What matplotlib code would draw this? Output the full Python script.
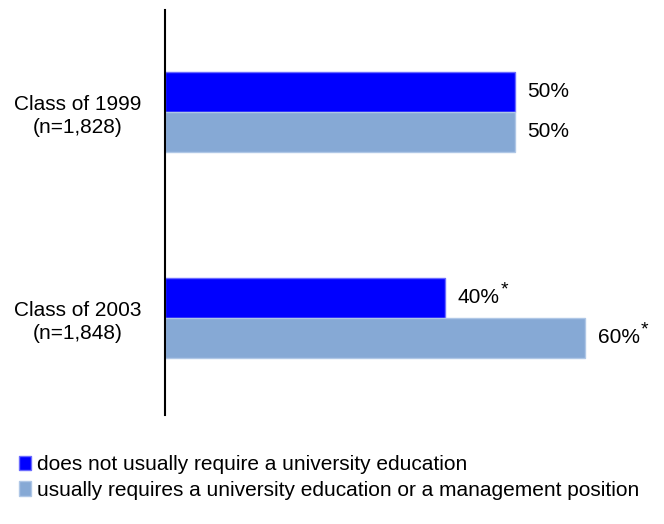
import matplotlib
matplotlib.use("Agg")
import matplotlib.pyplot as plt
from matplotlib.patches import Patch
import numpy as np

plt.rcParams['font.family'] = ['Liberation Sans', 'DejaVu Sans']

categories = ["Class of 1999\n(n=1,828)", "Class of 2003\n(n=1,848)"]
series_names = ["does not usually require a university education",
                "usually requires a university education or a management position"]
not_required = [50, 40]
required = [50, 60]
not_required_sig = [False, True]
required_sig = [False, True]

colors = ["#0000FF", "#86A9D5"]
edges = ["#6B6BFF", "#AFC7E6"]
FS = 15

fig = plt.figure(figsize=(6.64, 5.24), dpi=100)
ax = fig.add_axes([165/664, (524-415)/524, 490/664, 405/524])

y = np.arange(len(categories))
h = 0.194
ax.barh(y - h/2, not_required, height=h, color=colors[0], edgecolor=edges[0], linewidth=1)
ax.barh(y + h/2, required, height=h, color=colors[1], edgecolor=edges[1], linewidth=1)

for i in range(len(categories)):
    for vals, sig, off in ((not_required, not_required_sig, -h/2), (required, required_sig, h/2)):
        t = ax.text(vals[i] + 1.8, y[i] + off, f"{vals[i]}%", va='center', ha='left', fontsize=FS)
        if sig[i]:
            ax.annotate("*", xy=(1, 1), xycoords=t, xytext=(0.5, -1), textcoords='offset points',
                        ha='left', va='center', fontsize=FS - 1)

ax.set_xlim(0, 70)
ax.set_ylim(1.471, -0.495)
ax.set_yticks(y)
ax.set_yticklabels(categories, fontsize=FS, ha='center', multialignment='center',
                   linespacing=1.25)
ax.tick_params(axis='y', length=0, pad=63)
ax.set_xticks([])
for s in ['top', 'right', 'bottom']:
    ax.spines[s].set_visible(False)
ax.spines['left'].set_linewidth(1.5)

handles = [Patch(facecolor=colors[0], edgecolor=edges[0]),
           Patch(facecolor=colors[1], edgecolor=edges[1])]
fig.legend(handles, series_names, loc='upper left', bbox_to_anchor=(11/664, (524-447)/524),
           frameon=False, fontsize=FS, handlelength=0.55, handleheight=0.7,
           handletextpad=0.3, labelspacing=0.3, borderaxespad=0)

fig.savefig("out.png", dpi=100)
